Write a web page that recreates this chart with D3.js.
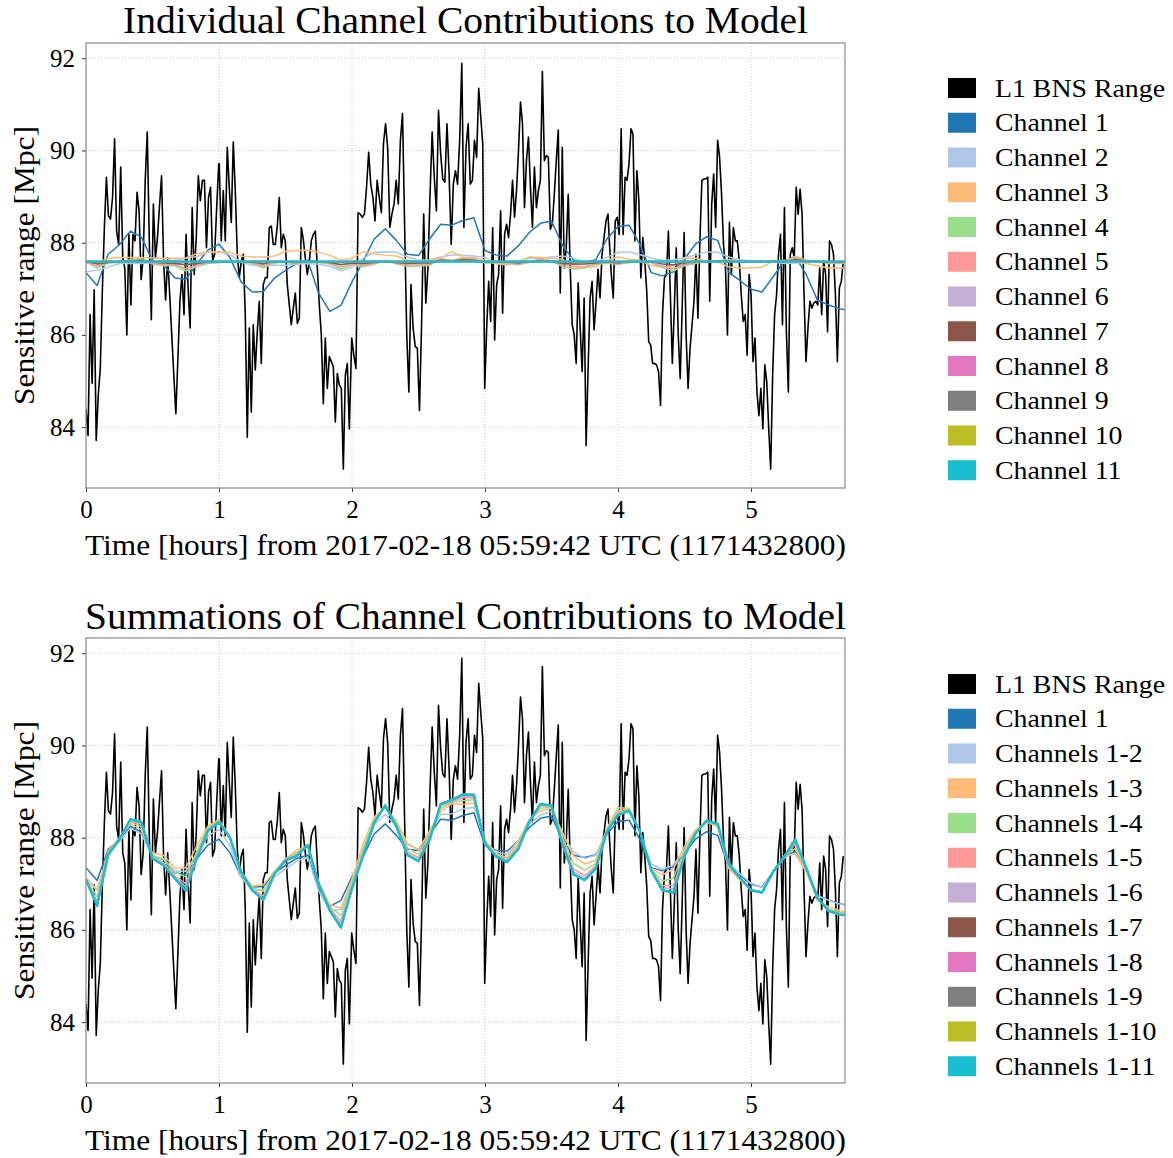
<!DOCTYPE html>
<html>
<head>
<meta charset="utf-8">
<script src="https://cdn.jsdelivr.net/npm/d3@7"></script>
<style>
  body { margin: 0; background: #fff; }
  text { font-family: "Liberation Serif", "Times New Roman", serif; fill: #000; }
</style>
</head>
<body>
<svg id="fig" width="1173" height="1158"></svg>
<script>
// L1 BNS range [Mpc] in six pieces (each spread over its time span, in hours)
const bnsSpans = [[0, 0.998], [1.002, 1.980], [1.998, 2.953], [2.968, 3.925], [3.935, 4.912], [4.927, 5.694]];
const bnsSeg1 = [84.40, 83.82, 86.44, 84.95, 86.98, 83.71, 84.69, 85.27, 86.95, 88.33, 89.42, 88.58, 88.51, 88.98, 90.25, 88.25, 87.96, 89.64, 87.67, 87.45, 86.00, 88.18, 86.65, 88.18, 88.04, 89.09, 88.69, 87.20, 87.67, 89.35, 90.40, 88.04, 86.33, 88.84, 87.67, 88.11, 88.80, 89.45, 87.60, 86.76, 87.67, 86.87, 86.00, 85.13, 84.29, 85.49, 86.73, 87.31, 86.44, 88.18, 87.02, 86.15, 88.76, 87.31, 88.11, 89.45, 88.91, 89.35, 89.35, 87.89, 88.98, 89.20, 87.60, 87.75, 88.76, 89.71];
const bnsSeg2 = [89.71, 88.04, 89.13, 88.04, 90.07, 89.20, 88.44, 90.18, 89.13, 87.75, 87.24, 87.60, 87.75, 86.44, 83.78, 86.15, 84.33, 86.22, 85.24, 86.07, 86.73, 85.38, 87.09, 87.24, 87.24, 88.33, 88.36, 87.96, 87.96, 88.36, 88.98, 87.89, 88.18, 88.04, 87.09, 86.65, 86.22, 86.58, 86.91, 86.25, 86.36, 88.33, 88.07, 87.67, 87.31, 87.60, 88.04, 88.18, 88.25, 87.45, 86.65, 86.00, 84.51, 85.93, 84.84, 85.53, 85.42, 85.31, 84.11, 85.16, 84.91, 84.84, 83.09, 85.13, 85.38, 83.96];
const bnsSeg3 = [85.93, 85.56, 85.27, 88.65, 88.62, 88.55, 88.62, 89.20, 89.96, 89.27, 88.98, 88.47, 89.35, 88.98, 88.65, 90.15, 90.58, 90.04, 88.33, 88.62, 88.84, 89.35, 88.84, 90.22, 90.80, 88.33, 86.00, 84.76, 87.09, 86.15, 85.75, 85.71, 84.36, 86.22, 88.62, 86.69, 87.45, 89.05, 90.40, 89.42, 88.69, 90.87, 89.93, 89.38, 89.31, 90.58, 89.49, 87.96, 89.27, 89.56, 89.27, 90.22, 91.89, 88.33, 90.07, 90.58, 89.27, 89.35, 90.22, 89.85, 91.35];
const bnsSeg4 = [90.73, 90.15, 84.84, 86.15, 87.16, 86.29, 88.33, 85.89, 87.09, 87.31, 88.69, 86.47, 88.18, 88.40, 88.11, 88.62, 89.35, 88.55, 89.13, 90.00, 91.05, 90.58, 88.76, 89.78, 90.29, 89.20, 88.33, 89.64, 88.76, 89.13, 89.35, 91.71, 89.78, 89.89, 89.85, 88.29, 88.40, 89.05, 89.78, 90.44, 86.91, 90.07, 87.45, 87.89, 89.05, 87.45, 86.22, 86.00, 85.38, 87.13, 86.15, 85.20, 86.80, 83.60, 85.27, 86.80, 87.16, 86.11, 86.73, 87.42, 86.80, 87.75, 88.11, 88.47, 88.62];
const bnsSeg5 = [88.04, 87.31, 86.80, 88.47, 88.55, 88.18, 90.47, 88.18, 89.42, 89.35, 89.71, 90.47, 90.36, 88.04, 89.56, 88.91, 87.24, 88.11, 87.60, 86.95, 85.85, 85.78, 85.38, 85.38, 85.35, 85.20, 84.47, 86.44, 87.24, 87.31, 88.25, 86.87, 85.38, 86.58, 87.89, 86.00, 85.05, 86.58, 88.22, 86.00, 84.84, 85.71, 86.22, 86.73, 87.75, 86.36, 88.04, 89.35, 89.38, 89.38, 89.42, 86.73, 88.84, 89.49, 88.33, 90.22, 89.85, 89.05, 87.96, 87.45, 86.00, 88.44, 87.31, 88.33, 88.04, 88.04, 87.60];
const bnsSeg6 = [86.87, 86.29, 86.44, 85.56, 87.31, 86.87, 85.42, 85.93, 84.76, 84.25, 84.84, 83.96, 85.35, 84.98, 83.96, 83.09, 85.13, 86.44, 86.87, 87.75, 88.18, 86.22, 88.76, 86.07, 84.76, 87.75, 87.89, 87.67, 89.20, 88.62, 89.16, 88.62, 86.87, 85.42, 86.15, 86.73, 86.58, 86.69, 86.73, 86.65, 87.45, 86.44, 87.60, 87.31, 86.07, 88.04, 87.96, 87.75, 86.87, 85.42, 87.02, 87.16, 87.60];

// model: mean range plus per-channel contributions, one value every 5 minutes
const stepMinutes = 5;
const modelMean = 87.59;
const channel1 = [87.35, 87.07, 87.75, 87.95, 88.25, 88.12, 87.61, 87.52, 87.24, 87.20,
  87.54, 87.84, 87.97, 87.67, 87.15, 86.93, 86.94, 87.23, 87.40, 87.55,
  87.62, 86.90, 86.51, 86.64, 87.15, 87.59, 88.08, 88.30, 88.05, 87.75,
  87.72, 88.08, 88.40, 88.38, 88.48, 88.54, 87.83, 87.73, 87.71, 87.93,
  88.22, 88.42, 88.47, 87.94, 87.62, 87.57, 87.63, 88.08, 88.35, 88.38,
  87.95, 87.35, 87.28, 87.37, 87.65, 87.97, 88.13, 88.05, 87.35, 87.18,
  86.99, 86.93, 87.26, 87.60, 87.70, 87.30, 86.75, 86.65, 86.57, 86.52];
// contributions of channels 2-11, offsets from the mean [Mpc]
const ch2 = [-0.22, -0.19, -0.12, -0.04, -0.04, -0.04, -0.02, 0.03, 0.03, 0.07,
  0.11, 0.20, 0.21, 0.15, -0.01, -0.08, -0.06, -0.08, -0.08, -0.06,
  -0.04, -0.06, -0.10, -0.20, -0.12, 0.07, 0.20, 0.21, 0.20, 0.10,
  0.03, 0.04, 0.10, 0.14, 0.14, 0.12, 0.09, -0.04, -0.07, 0.01,
  0.07, 0.07, 0.10, 0.12, 0.07, -0.02, -0.01, 0.09, 0.20, 0.21,
  0.15, 0.08, 0.03, 0.04, 0.09, 0.14, 0.21, 0.20, 0.10, 0.04,
  0.02, -0.01, -0.01, -0.04, -0.03, -0.01, -0.01, -0.01, -0.01, -0.01];
const ch3 = [-0.04, -0.02, 0.07, 0.09, 0.09, 0.09, 0.08, 0.07, 0.07, 0.08,
  0.17, 0.21, 0.21, 0.20, 0.12, 0.10, 0.10, 0.12, 0.22, 0.24,
  0.25, 0.20, 0.14, 0.03, 0.07, 0.21, 0.17, 0.14, 0.12, 0.03,
  -0.02, 0.03, 0.07, 0.22, 0.10, 0.09, 0.03, -0.04, -0.07, -0.01,
  0.10, 0.09, 0.07, 0.05, -0.09, -0.12, -0.11, 0.03, 0.10, 0.05,
  0.03, -0.09, -0.12, -0.09, 0.07, 0.07, 0.01, -0.01, -0.12, -0.14,
  -0.14, -0.12, 0.01, 0.03, -0.02, -0.04, -0.09, -0.14, -0.14, -0.13];
const ch4 = [0.00, -0.14, -0.03, -0.02, 0.04, 0.07, -0.05, -0.09, -0.09, -0.20,
  -0.11, -0.04, -0.02, -0.01, 0.00, -0.04, -0.14, -0.03, -0.01, -0.05,
  0.00, -0.02, -0.05, -0.16, -0.08, -0.11, -0.06, 0.02, -0.05, -0.10,
  -0.10, -0.08, 0.06, 0.03, 0.08, 0.07, -0.03, -0.02, -0.04, -0.07,
  -0.02, 0.06, 0.02, -0.11, -0.16, -0.14, -0.07, -0.03, -0.06, -0.02,
  0.00, -0.02, -0.13, -0.20, -0.09, -0.04, 0.01, 0.02, 0.04, 0.02,
  0.00, 0.01, 0.00, 0.00, 0.12, 0.03, 0.02, -0.04, -0.04, -0.03];
const ch5 = [0.00, -0.10, -0.02, -0.01, 0.03, 0.05, -0.04, -0.07, -0.07, -0.15,
  -0.08, -0.03, -0.02, -0.01, 0.00, -0.03, -0.10, -0.02, -0.01, -0.04,
  0.00, -0.01, -0.04, -0.12, -0.06, -0.08, -0.04, 0.02, -0.04, -0.08,
  -0.07, -0.06, 0.05, 0.02, 0.06, 0.05, -0.02, -0.02, -0.03, -0.05,
  -0.01, 0.05, 0.02, -0.08, -0.12, -0.11, -0.05, -0.02, -0.05, -0.02,
  0.00, -0.02, -0.10, -0.15, -0.07, -0.03, 0.01, 0.02, 0.03, 0.02,
  0.00, 0.01, 0.00, 0.00, 0.09, 0.02, 0.02, -0.03, -0.03, -0.02];
const ch6 = [0.00, -0.05, -0.01, -0.01, 0.02, 0.03, -0.02, -0.03, -0.03, -0.07,
  -0.04, -0.02, -0.01, 0.00, 0.00, -0.01, -0.05, -0.01, 0.00, -0.02,
  0.00, -0.01, -0.02, -0.06, -0.03, -0.04, -0.02, 0.01, -0.02, -0.04,
  -0.04, -0.03, 0.02, 0.01, 0.03, 0.03, -0.01, -0.01, -0.02, -0.03,
  -0.01, 0.02, 0.01, -0.04, -0.06, -0.05, -0.03, -0.01, -0.02, -0.01,
  0.00, -0.01, -0.05, -0.08, -0.03, -0.01, 0.00, 0.01, 0.02, 0.01,
  0.00, 0.00, 0.00, 0.00, 0.05, 0.01, 0.01, -0.01, -0.01, -0.01];
const ch7 = [0.00, -0.05, -0.02, 0.00, 0.01, 0.03, -0.01, -0.03, -0.04, -0.07,
  -0.04, -0.01, 0.00, -0.01, 0.00, -0.01, -0.05, 0.00, -0.01, -0.02,
  0.01, 0.00, -0.02, -0.07, -0.03, -0.04, -0.02, 0.00, -0.02, -0.04,
  -0.03, -0.03, 0.03, 0.01, 0.04, 0.03, -0.01, -0.01, -0.01, -0.03,
  0.00, 0.02, 0.00, -0.04, -0.05, -0.05, -0.03, -0.01, -0.03, 0.00,
  0.00, 0.00, -0.05, -0.07, -0.03, -0.01, 0.00, 0.01, 0.01, 0.00,
  -0.01, 0.00, 0.00, 0.00, 0.04, 0.02, 0.00, -0.01, -0.01, -0.01];
const ch8 = [0.00, 0.00, 0.01, 0.00, 0.00, -0.01, 0.00, 0.00, 0.01, 0.00,
  0.00, 0.00, -0.01, 0.00, 0.00, 0.00, 0.01, 0.00, 0.00, 0.00,
  0.00, -0.01, 0.00, 0.00, 0.00, 0.00, 0.01, 0.00, 0.00, 0.00,
  0.00, 0.00, 0.00, 0.01, 0.00, 0.00, -0.01, 0.00, 0.00, 0.00,
  0.00, 0.00, 0.01, 0.00, 0.00, 0.00, 0.00, 0.00, 0.00, -0.01,
  0.00, 0.00, 0.00, 0.00, 0.01, 0.00, 0.00, 0.00, 0.00, 0.00,
  0.00, -0.01, 0.00, 0.00, 0.00, 0.01, 0.00, 0.00, 0.00, 0.00];
const ch9 = [0.00, 0.00, 0.00, 0.00, 0.00, 0.00, 0.00, 0.00, 0.00, -0.01,
  0.00, 0.00, 0.00, 0.00, 0.00, 0.00, 0.00, 0.00, 0.00, 0.00,
  0.00, 0.00, 0.00, -0.01, 0.00, 0.00, 0.00, 0.00, 0.00, 0.00,
  0.00, 0.00, 0.00, 0.00, 0.01, 0.00, 0.00, 0.00, 0.00, 0.00,
  0.00, 0.00, 0.00, 0.00, -0.01, 0.00, 0.00, 0.00, 0.00, 0.00,
  0.00, 0.00, 0.00, -0.01, 0.00, 0.00, 0.00, 0.00, 0.00, 0.00,
  0.00, 0.00, 0.00, 0.00, 0.01, 0.00, 0.00, 0.00, 0.00, 0.00];
const ch10 = [0.00, 0.00, 0.00, 0.00, 0.00, 0.00, 0.00, 0.00, 0.00, 0.00,
  0.00, 0.00, 0.00, 0.00, 0.00, 0.00, 0.00, 0.00, 0.00, 0.00,
  0.00, 0.00, 0.00, 0.00, 0.00, 0.00, 0.00, 0.00, 0.00, 0.00,
  0.00, 0.00, 0.00, 0.00, 0.00, 0.00, 0.00, 0.00, 0.00, 0.00,
  0.00, 0.00, 0.00, 0.00, 0.00, 0.00, 0.00, 0.00, 0.00, 0.00,
  0.00, 0.00, 0.00, 0.00, 0.00, 0.00, 0.00, 0.00, 0.00, 0.00,
  0.00, 0.00, 0.00, 0.00, 0.00, 0.00, 0.00, 0.00, 0.00, 0.00];
const ch11 = [0.00, 0.00, 0.00, 0.00, 0.00, 0.00, 0.00, 0.00, 0.00, 0.00,
  0.00, 0.00, 0.00, 0.00, 0.00, 0.00, 0.00, 0.00, 0.00, 0.00,
  0.00, 0.00, 0.00, 0.00, 0.00, 0.00, 0.00, 0.00, 0.00, 0.00,
  0.00, 0.00, 0.00, 0.00, 0.00, 0.00, 0.00, 0.00, 0.00, 0.00,
  0.00, 0.00, 0.00, 0.00, 0.00, 0.00, 0.00, 0.00, 0.00, 0.00,
  0.00, 0.00, 0.00, 0.00, 0.00, 0.00, 0.00, 0.00, 0.00, 0.00,
  0.00, 0.00, 0.00, 0.00, 0.00, 0.00, 0.00, 0.00, 0.00, 0.00];

const channelColors = ['#1f77b4', '#aec7e8', '#ffbb78', '#98df8a', '#ff9896', '#c5b0d5',
                       '#8c564b', '#e377c2', '#7f7f7f', '#bcbd22', '#17becf'];
const xTicks = [0, 1, 2, 3, 4, 5];
const yTicks = [84, 86, 88, 90, 92];
const xMax = 5.707;          // hours shown
const yDomain = [82.68, 92.33];

// ---- build the series ----
const bnsSegs = [bnsSeg1, bnsSeg2, bnsSeg3, bnsSeg4, bnsSeg5, bnsSeg6];
const bns = [];
bnsSegs.forEach((seg, k) => {
  const [t0, t1] = bnsSpans[k];
  seg.forEach((v, i) => bns.push({t: t0 + i * (t1 - t0) / (seg.length - 1), v: v}));
});

const offsets = [ch2, ch3, ch4, ch5, ch6, ch7, ch8, ch9, ch10, ch11];
const tOf = i => i * stepMinutes / 60;

// top: each channel on its own (mean + its contribution)
const topSeries = [{label: 'Channel 1', color: channelColors[0],
                    pts: channel1.map((v, i) => ({t: tOf(i), v: v}))}];
offsets.forEach((off, k) => topSeries.push({
  label: 'Channel ' + (k + 2), color: channelColors[k + 1],
  pts: off.map((o, i) => ({t: tOf(i), v: modelMean + o}))
}));

// bottom: running sums of the contributions
const bottomSeries = [{label: 'Channel 1', color: channelColors[0],
                       pts: channel1.map((v, i) => ({t: tOf(i), v: v}))}];
let running = channel1.slice();
offsets.forEach((off, k) => {
  running = running.map((v, i) => v + off[i]);
  bottomSeries.push({label: 'Channels 1-' + (k + 2), color: channelColors[k + 1],
                     pts: running.map((v, i) => ({t: tOf(i), v: v}))});
});

// ---- drawing ----
const svg = d3.select('#fig');
const left = 86, right = 845;
const x = d3.scaleLinear().domain([0, xMax]).range([left, right]);

// stretch Times a little so it sits closer to the width of Computer Modern
function widen(sel, k) {
  sel.each(function() {
    const w = this.getComputedTextLength();
    d3.select(this).attr('textLength', w * k).attr('lengthAdjust', 'spacingAndGlyphs');
  });
}

const panels = [
  {top: 43, bottom: 488, title: 'Individual Channel Contributions to Model', titleY: 33, titleLen: 685,
   xLabelY: 555, legendY: 88, series: topSeries},
  {top: 638, bottom: 1083, title: 'Summations of Channel Contributions to Model', titleY: 629, titleLen: 761,
   xLabelY: 1150, legendY: 684, series: bottomSeries}
];

panels.forEach((p, pi) => {
  const y = d3.scaleLinear().domain(yDomain).range([p.bottom, p.top]);
  const g = svg.append('g');

  g.append('clipPath').attr('id', 'clip' + pi)
    .append('rect').attr('x', left).attr('y', p.top)
    .attr('width', right - left).attr('height', p.bottom - p.top);

  // dotted grid
  g.selectAll('.gx').data(xTicks).enter().append('line')
    .attr('x1', d => x(d)).attr('x2', d => x(d))
    .attr('y1', p.top).attr('y2', p.bottom)
    .attr('stroke', '#b5b5b5').attr('stroke-width', 0.8).attr('stroke-dasharray', '1,2');
  g.selectAll('.gy').data(yTicks).enter().append('line')
    .attr('x1', left).attr('x2', right)
    .attr('y1', d => y(d)).attr('y2', d => y(d))
    .attr('stroke', '#b5b5b5').attr('stroke-width', 0.8).attr('stroke-dasharray', '1,2');

  const line = d3.line().x(d => x(d.t)).y(d => y(d.v));
  const plot = g.append('g').attr('clip-path', `url(#clip${pi})`);

  plot.append('path').datum(bns)
    .attr('d', line).attr('fill', 'none')
    .attr('stroke', '#000').attr('stroke-width', 1.6).attr('stroke-linejoin', 'round');

  // last series sits on top of the pile, so it reads a bit heavier
  const last = p.series.length - 1;
  plot.selectAll('.ch').data(p.series).enter().append('path')
    .attr('d', d => line(d.pts)).attr('fill', 'none')
    .attr('stroke', d => d.color)
    .attr('stroke-width', (d, i) => i === last ? 2.4 : 1.5)
    .attr('stroke-linejoin', 'round');

  // axes
  const xAxis = g.append('g').attr('transform', `translate(0,${p.bottom})`)
    .call(d3.axisBottom(x).tickValues(xTicks).tickFormat(d3.format('d')).tickSize(4).tickPadding(8));
  const yAxis = g.append('g').attr('transform', `translate(${left},0)`)
    .call(d3.axisLeft(y).tickValues(yTicks).tickFormat(d3.format('d')).tickSize(4).tickPadding(7));
  [xAxis, yAxis].forEach(a => {
    a.select('.domain').remove();
    a.selectAll('line').attr('stroke', '#333');
    a.selectAll('text').attr('font-size', 25).attr('font-family', '"Liberation Serif", serif');
  });

  // frame
  g.append('rect').attr('x', left).attr('y', p.top)
    .attr('width', right - left).attr('height', p.bottom - p.top)
    .attr('fill', 'none').attr('stroke', '#8a8a8a').attr('stroke-width', 1.2);

  // labels
  g.append('text').attr('x', (left + right) / 2).attr('y', p.titleY)
    .attr('text-anchor', 'middle').attr('font-size', 37)
    .attr('textLength', p.titleLen).attr('lengthAdjust', 'spacingAndGlyphs')
    .text(p.title);
  g.append('text').attr('x', (left + right) / 2).attr('y', p.xLabelY)
    .attr('text-anchor', 'middle').attr('font-size', 30)
    .attr('textLength', 761).attr('lengthAdjust', 'spacingAndGlyphs')
    .text('Time [hours] from 2017-02-18 05:59:42 UTC (1171432800)');
  g.append('text')
    .attr('transform', `translate(34,${(p.top + p.bottom) / 2}) rotate(-90)`)
    .attr('text-anchor', 'middle').attr('font-size', 30)
    .attr('textLength', 279).attr('lengthAdjust', 'spacingAndGlyphs')
    .text('Sensitive range [Mpc]');

  // legend
  const entries = [{label: 'L1 BNS Range', color: '#000'}].concat(p.series);
  const leg = g.append('g');
  const item = leg.selectAll('g').data(entries).enter().append('g')
    .attr('transform', (d, i) => `translate(948,${p.legendY + i * 34.75})`);
  item.append('rect').attr('x', 0).attr('y', -10).attr('width', 28).attr('height', 20)
    .attr('fill', d => d.color);
  item.append('text').attr('x', 47).attr('y', 8.5).attr('font-size', 26)
    .text(d => d.label)
    .call(widen, 1.07);
});
</script>
</body>
</html>
